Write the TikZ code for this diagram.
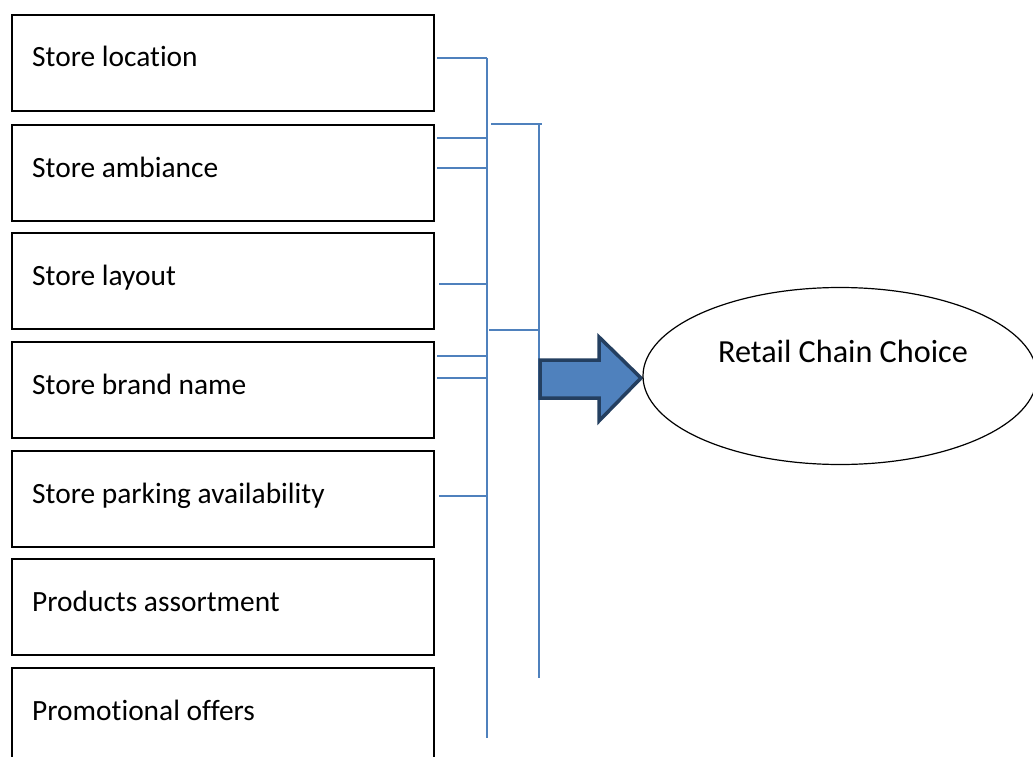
\documentclass[tikz,border=0pt]{standalone}
\usepackage{fontspec}
\setmainfont{Carlito}[Ligatures=NoCommon]
\usetikzlibrary{shapes.geometric}
\definecolor{busblue}{HTML}{4F81BD}
\definecolor{arrowedge}{HTML}{243F60}
\tikzset{
  factor/.style={draw=black, line width=1.6pt, minimum width=422pt, minimum height=96pt, inner sep=0pt, anchor=north west},
  ftext/.style={anchor=base west, inner sep=0pt, font=\fontsize{29.4pt}{35pt}\selectfont},
  bus/.style={draw=busblue, line width=1.5pt},
  blockarrow/.style={fill=busblue, draw=arrowedge, line width=3.5pt, line join=miter},
}
\begin{document}
\begin{tikzpicture}[x=1pt,y=-1pt]
\useasboundingbox (0,0) rectangle (1033,757);
\clip (0,0) rectangle (1033,757);
% factor boxes
\node[factor] (b1) at (11,14) {};
\node[factor] (b2) at (11,124) {};
\node[factor] (b3) at (11,232) {};
\node[factor] (b4) at (11,341) {};
\node[factor] (b5) at (11,450) {};
\node[factor] (b6) at (11,558) {};
\node[factor, minimum height=120pt] (b7) at (11,667) {};
\node[ftext] (t1) at (32,67) {Store location};
\node[ftext] (t2) at (32,177) {Store ambiance};
\node[ftext] (t3) at (32,285) {Store layout};
\node[ftext] (t4) at (32,394) {Store brand name};
\node[ftext] (t5) at (32,503) {Store parking availability};
\node[ftext] (t6) at (32,611) {Products assortment};
\node[ftext] (t7) at (32,720) {Promotional offers};
% buses
\coordinate (bus1top) at (487,58);
\coordinate (bus1bot) at (487,738);
\coordinate (bus2top) at (539,124);
\coordinate (bus2bot) at (539,678);
\draw[bus] (bus1top) -- (bus1bot);
\draw[bus] (bus2top) -- (bus2bot);
\draw[bus] (491,124) -- (542,124);
\draw[bus] (489,330) -- (bus2top |- 0,330);
% connectors from boxes
\draw[bus] (437,58) -- (487,58);
\draw[bus] (437,138) -- (487,138);
\draw[bus] (437,168) -- (487,168);
\draw[bus] (439,284) -- (487,284);
\draw[bus] (437,356) -- (487,356);
\draw[bus] (437,378) -- (487,378);
\draw[bus] (439,496) -- (487,496);
% block arrow
\draw[blockarrow] (540,360) -- (599,360) -- (599,337) -- (641,378) -- (599,421) -- (599,398) -- (540,398) -- cycle;
% outcome
\node[draw=black, line width=1.2pt, ellipse, minimum width=394pt, minimum height=177pt, inner sep=0pt] (rc) at (840,376) {};
\node[anchor=base, inner sep=0pt, font=\fontsize{32.2pt}{38pt}\selectfont] (rct) at (843,362) {Retail Chain Choice};
\end{tikzpicture}
\end{document}
